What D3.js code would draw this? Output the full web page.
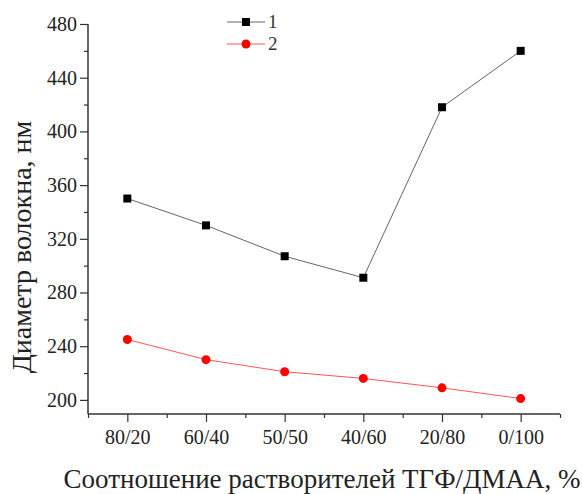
<!DOCTYPE html>
<html>
<head>
<meta charset="utf-8">
<script src="https://cdn.jsdelivr.net/npm/d3@7"></script>
<style>
body { margin: 0; background: #fff; }
svg { display: block; font-family: 'Liberation Serif'; }
svg text { font-family: 'Liberation Serif'; }
</style>
</head>
<body>
<svg width="582" height="494"></svg>
<script>
const FONT = "'Liberation Serif'"
const AXIS_COLOR = "#333"

// data
const categories = ["80/20", "60/40", "50/50", "40/60", "20/80", "0/100"]
const series1 = [350, 330, 307, 291, 418, 460]
const series2 = [245, 230, 221, 216, 209, 201]
const yTicks = [200, 240, 280, 320, 360, 400, 440, 480]
const yMinorTicks = [220, 260, 300, 340, 380, 420, 460]
const legendLabels = ["1", "2"]

const svg = d3.select("svg")

const x = d3.scaleLinear()
    .domain([-0.5, categories.length - 0.5])
    .range([88, 560])

const y = d3.scaleLinear()
    .domain([189.5, 480])
    .range([414, 24])

function styleAxis(g) {
    g.attr("font-family", FONT).attr("font-size", 20)
    g.selectAll("line").attr("stroke", AXIS_COLOR).attr("stroke-width", 1.2)
    g.selectAll("text").attr("fill", "#222")
}

// minor ticks
svg.append("g")
    .attr("transform", "translate(88,0)")
    .call(d3.axisLeft(y).tickValues(yMinorTicks).tickSize(4).tickFormat(""))
    .call(g => g.select(".domain").remove())
    .call(styleAxis)

svg.append("g")
    .attr("transform", "translate(0,414)")
    .call(d3.axisBottom(x).tickValues(d3.range(-0.5, 5.6, 1)).tickSize(4).tickFormat(""))
    .call(g => g.select(".domain").remove())
    .call(styleAxis)

// major axes
const yAxis = svg.append("g")
    .attr("transform", "translate(88,0)")
    .call(d3.axisLeft(y).tickValues(yTicks).tickSize(8).tickPadding(3).tickSizeOuter(0))
    .call(styleAxis)
yAxis.select(".domain").attr("stroke", AXIS_COLOR).attr("stroke-width", 1.5)
    .attr("d", "M0,414V24")

const xAxis = svg.append("g")
    .attr("transform", "translate(0,414)")
    .call(d3.axisBottom(x).tickValues(d3.range(categories.length))
        .tickFormat(i => categories[i]).tickSize(8).tickPadding(8).tickSizeOuter(0))
    .call(styleAxis)
xAxis.select(".domain").attr("stroke", AXIS_COLOR).attr("stroke-width", 1.5)
    .attr("d", "M88,0H560")

// axis titles (sizes picked to match the reference text widths)
svg.append("text")
    .attr("x", 322)
    .attr("y", 488)
    .attr("text-anchor", "middle")
    .attr("font-size", 27)
    .attr("fill", "#222")
    .text("Соотношение растворителей ТГФ/ДМАА, %")

svg.append("text")
    .attr("transform", "translate(31,247) rotate(-90)")
    .attr("text-anchor", "middle")
    .attr("font-size", 28)
    .attr("fill", "#222")
    .text("Диаметр волокна, нм")

// lines
const line = d3.line()
    .x((d, i) => x(i))
    .y(d => y(d))

svg.append("path")
    .datum(series1)
    .attr("fill", "none")
    .attr("stroke", "#666")
    .attr("stroke-width", 1)
    .attr("d", line)

svg.append("path")
    .datum(series2)
    .attr("fill", "none")
    .attr("stroke", "#ff5555")
    .attr("stroke-width", 1)
    .attr("d", line)

svg.selectAll("rect.m1")
    .data(series1)
    .join("rect")
    .classed("m1", true)
    .attr("x", (d, i) => x(i) - 4)
    .attr("y", d => y(d) - 4)
    .attr("width", 8)
    .attr("height", 8)
    .attr("fill", "#000")

svg.selectAll("circle.m2")
    .data(series2)
    .join("circle")
    .classed("m2", true)
    .attr("cx", (d, i) => x(i))
    .attr("cy", d => y(d))
    .attr("r", 4.5)
    .attr("fill", "#ff0000")

// legend
const legend = svg.append("g").attr("transform", "translate(227,22)")
legendLabels.forEach((lab, i) => {
    const g = legend.append("g").attr("transform", "translate(0," + (i * 22) + ")")
    g.append("line").attr("x1", 0).attr("x2", 38)
        .attr("stroke", i === 0 ? "#666" : "#ff5555").attr("stroke-width", 1)
    if (i === 0) {
        g.append("rect").attr("x", 15).attr("y", -4).attr("width", 8).attr("height", 8).attr("fill", "#000")
    } else {
        g.append("circle").attr("cx", 19).attr("r", 4.5).attr("fill", "#ff0000")
    }
    g.append("text").attr("x", 41).attr("y", 6)
        .attr("font-size", 19).attr("fill", "#333")
        .text(lab)
})
</script>
</body>
</html>
